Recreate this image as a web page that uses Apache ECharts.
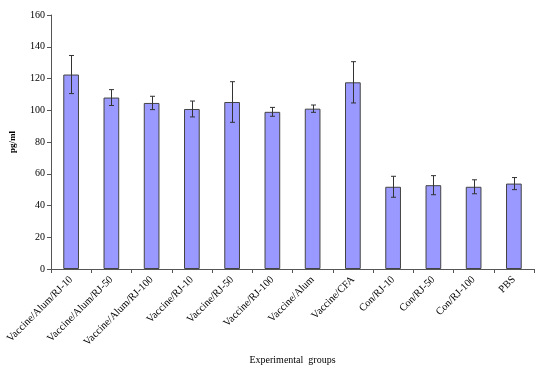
<!DOCTYPE html>
<html>
<head>
<meta charset="utf-8">
<script src="https://cdn.jsdelivr.net/npm/echarts@6/dist/echarts.min.js"></script>
<style>
html, body { margin: 0; padding: 0; background: #fff; }
#chart { width: 555px; height: 375px; }
</style>
</head>
<body>
<div id="chart"></div>
<script>
var groups = ['Vaccine/Alum/RJ-10', 'Vaccine/Alum/RJ-50', 'Vaccine/Alum/RJ-100', 'Vaccine/RJ-10',
    'Vaccine/RJ-50', 'Vaccine/RJ-100', 'Vaccine/Alum', 'Vaccine/CFA',
    'Con/RJ-10', 'Con/RJ-50', 'Con/RJ-100', 'PBS'];
var means = [122.5, 108, 104.6, 100.8, 105.2, 99, 101, 117.6, 51.8, 52.8, 51.8, 53.8];
var errors = [12, 5, 4.2, 5, 12.8, 2.8, 2.3, 13, 6.6, 6, 4.4, 3.8];

var chart = echarts.init(document.getElementById('chart'), null, {renderer: 'canvas'});
var serif = '"Liberation Serif", "DejaVu Serif", serif';

chart.setOption({
    animation: false,
    textStyle: {fontFamily: serif},
    grid: {left: 44, right: 21, top: 15, bottom: 106},
    xAxis: {
        type: 'category',
        data: groups,
        name: 'Experimental  groups',
        nameLocation: 'middle',
        nameGap: 82,
        nameTextStyle: {fontFamily: serif, fontSize: 10, color: '#000'},
        axisLine: {lineStyle: {color: '#555', width: 1}},
        axisTick: {show: true, alignWithLabel: false, length: 4, lineStyle: {color: '#555'}},
        axisLabel: {rotate: 45, fontFamily: serif, fontSize: 10.5, color: '#000', margin: 9, interval: 0}
    },
    yAxis: {
        type: 'value',
        min: 0, max: 160, interval: 20,
        name: 'pg/ml',
        nameLocation: 'middle',
        nameGap: 34,
        nameRotate: 90,
        nameTextStyle: {fontFamily: serif, fontSize: 9, fontWeight: 'bold', color: '#000'},
        splitLine: {show: false},
        axisLine: {show: true, lineStyle: {color: '#555', width: 1}},
        axisTick: {show: true, length: 4, lineStyle: {color: '#555'}},
        axisLabel: {fontFamily: serif, fontSize: 10, color: '#000', margin: 6}
    },
    series: [{
        type: 'bar',
        data: means,
        barWidth: '39%',
        itemStyle: {color: '#9999FF', borderColor: '#444', borderWidth: 1}
    }, {
        type: 'custom',
        data: means.map(function (m, i) { return [i, m - errors[i], m + errors[i]]; }),
        renderItem: function (params, api) {
            var lo = api.coord([api.value(0), api.value(1)]);
            var hi = api.coord([api.value(0), api.value(2)]);
            var x = Math.round(lo[0]) + 0.5, cap = 2.5;
            var st = {stroke: '#333', lineWidth: 1};
            return {
                type: 'group',
                children: [
                    {type: 'line', shape: {x1: x, y1: lo[1], x2: x, y2: hi[1]}, style: st},
                    {type: 'line', shape: {x1: x - cap, y1: lo[1], x2: x + cap, y2: lo[1]}, style: st},
                    {type: 'line', shape: {x1: x - cap, y1: hi[1], x2: x + cap, y2: hi[1]}, style: st}
                ]
            };
        },
        encode: {x: 0, y: [1, 2]},
        z: 10
    }]
});
</script>
</body>
</html>
